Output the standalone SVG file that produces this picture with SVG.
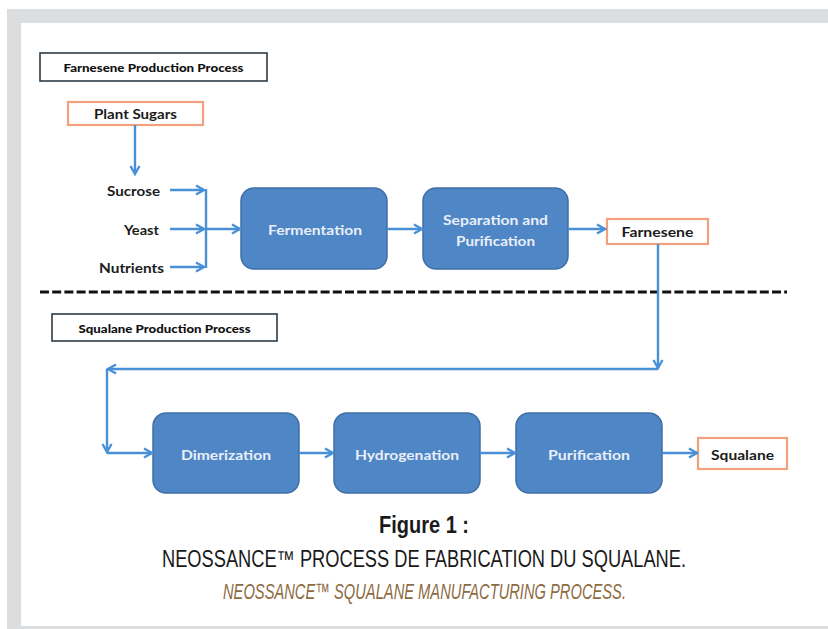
<svg xmlns="http://www.w3.org/2000/svg" width="828" height="629" viewBox="0 0 828 629">
<defs>
<style>
.lbl{font-family:Lato,"Open Sans","Liberation Sans",sans-serif;font-weight:bold;fill:#1c1c1c;text-anchor:middle;dominant-baseline:central}
.hdr{font-family:Lato,"Open Sans","Liberation Sans",sans-serif;font-weight:900;fill:#111;font-size:12px;text-anchor:middle;dominant-baseline:central}
.proc rect{fill:#4f86c6;stroke:#3f6fa6;stroke-width:1.5}
.proc text{font-family:Lato,"Open Sans","Liberation Sans",sans-serif;font-weight:bold;font-size:13.5px;fill:#e9eff8;text-anchor:middle;dominant-baseline:central}
.out rect{fill:#fff;stroke:#f2a07e;stroke-width:2.2}
.hbox rect{fill:#fff;stroke:#2e3b46;stroke-width:1.6}
.conn path{fill:none;stroke:#4a90d6;stroke-width:2.4}
.cap{font-family:"Liberation Sans",Arial,sans-serif;text-anchor:middle}
</style>
<marker id="ah" markerUnits="userSpaceOnUse" viewBox="0 0 12 12" refX="10" refY="6" markerWidth="12" markerHeight="12" orient="auto">
<path d="M2,1.5 L10,6 L2,10.5" fill="none" stroke="#4a90d6" stroke-width="2.4"/>
</marker>
</defs>
<rect x="0" y="0" width="828" height="629" fill="#fff"/>
<rect x="7" y="9" width="821" height="620" fill="#dcdddf"/>
<rect x="21" y="23" width="807" height="603" fill="#fff"/>

<g id="hdr-farnesene" class="hbox"><rect x="40" y="53" width="227" height="28"/><text class="hdr" x="153.5" y="67.5" textLength="180" lengthAdjust="spacingAndGlyphs">Farnesene Production Process</text></g>
<g id="plant-sugars" class="out"><rect x="68" y="102" width="135" height="23"/><text class="lbl" x="135.5" y="113.5" font-size="14" textLength="83" lengthAdjust="spacingAndGlyphs">Plant Sugars</text></g>
<g id="sucrose"><text class="lbl" x="133.5" y="191" font-size="13.5" textLength="53" lengthAdjust="spacingAndGlyphs">Sucrose</text></g>
<g id="yeast"><text class="lbl" x="141.5" y="230" font-size="13.5" textLength="35" lengthAdjust="spacingAndGlyphs">Yeast</text></g>
<g id="nutrients"><text class="lbl" x="131.5" y="268" font-size="13.5" textLength="65" lengthAdjust="spacingAndGlyphs">Nutrients</text></g>
<g id="fermentation" class="proc"><rect x="241" y="188" width="146" height="81" rx="13"/><text x="315" y="230" textLength="94" lengthAdjust="spacingAndGlyphs">Fermentation</text></g>
<g id="separation" class="proc"><rect x="423" y="188" width="145" height="81" rx="13"/><text x="495.5" y="220" textLength="105" lengthAdjust="spacingAndGlyphs">Separation and</text><text x="495.5" y="241" textLength="79" lengthAdjust="spacingAndGlyphs">Purification</text></g>
<g id="farnesene" class="out"><rect x="607" y="219" width="101" height="25"/><text class="lbl" x="657.5" y="231.5" font-size="14" textLength="72" lengthAdjust="spacingAndGlyphs">Farnesene</text></g>

<path d="M40,292 H787" stroke="#111" stroke-width="3" stroke-dasharray="9 3.2" fill="none"/>

<g id="hdr-squalane" class="hbox"><rect x="52" y="314" width="225" height="27"/><text class="hdr" x="164.5" y="328" textLength="172" lengthAdjust="spacingAndGlyphs">Squalane Production Process</text></g>
<g id="dimerization" class="proc"><rect x="153" y="413" width="146" height="80" rx="13"/><text x="226" y="455" textLength="90" lengthAdjust="spacingAndGlyphs">Dimerization</text></g>
<g id="hydrogenation" class="proc"><rect x="334" y="413" width="146" height="80" rx="13"/><text x="407" y="455" textLength="104" lengthAdjust="spacingAndGlyphs">Hydrogenation</text></g>
<g id="purification" class="proc"><rect x="516" y="413" width="146" height="80" rx="13"/><text x="589" y="455" textLength="82" lengthAdjust="spacingAndGlyphs">Purification</text></g>
<g id="squalane" class="out"><rect x="698" y="438" width="89" height="31"/><text class="lbl" x="742.5" y="454.5" font-size="14" textLength="63" lengthAdjust="spacingAndGlyphs">Squalane</text></g>

<g id="connectors" class="conn">
<path d="M135,125 V174" marker-end="url(#ah)"/>
<path d="M170,190 H204" marker-end="url(#ah)"/>
<path d="M170,229 H204" marker-end="url(#ah)"/>
<path d="M170,267 H204" marker-end="url(#ah)"/>
<path d="M206,189 V268"/>
<path d="M206,229 H240" marker-end="url(#ah)"/>
<path d="M387,229 H422" marker-end="url(#ah)"/>
<path d="M568,229 H605" marker-end="url(#ah)"/>
<path d="M658,244 V368" marker-end="url(#ah)"/>
<path d="M658,369 H108" marker-end="url(#ah)"/>
<path d="M107,369 V452" marker-end="url(#ah)"/>
<path d="M107,453 H152" marker-end="url(#ah)"/>
<path d="M299,453 H333" marker-end="url(#ah)"/>
<path d="M480,453 H515" marker-end="url(#ah)"/>
<path d="M662,453 H697" marker-end="url(#ah)"/>
</g>

<g id="caption">
<text class="cap" x="424" y="533" font-size="23" font-weight="bold" fill="#1a1a1a" textLength="90" lengthAdjust="spacingAndGlyphs">Figure 1 :</text>
<text class="cap" x="424" y="567" font-size="23" fill="#1a1a1a" textLength="524" lengthAdjust="spacingAndGlyphs">NEOSSANCE™ PROCESS DE FABRICATION DU SQUALANE.</text>
<text class="cap" x="424.5" y="599" font-size="22" font-style="italic" fill="#8c6b3f" textLength="403" lengthAdjust="spacingAndGlyphs">NEOSSANCE™ SQUALANE MANUFACTURING PROCESS.</text>
</g>
</svg>
